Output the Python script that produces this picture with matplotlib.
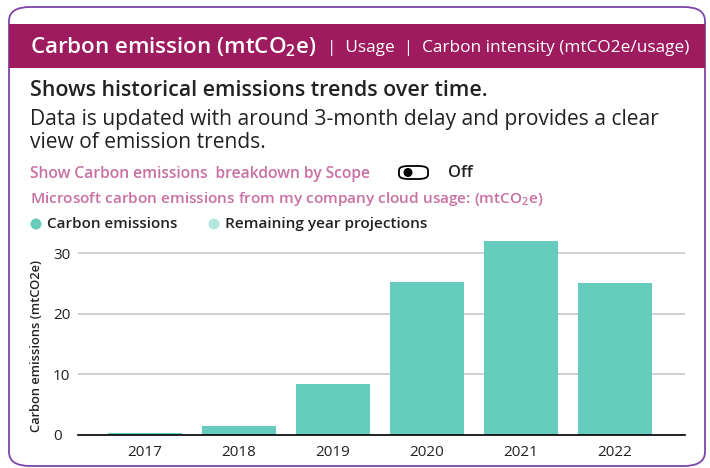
import matplotlib
matplotlib.use("Agg")
import matplotlib.pyplot as plt
from matplotlib.patches import FancyBboxPatch, Rectangle, Ellipse

plt.rcParams['font.family'] = ['Open Sans', 'DejaVu Sans']
plt.rcParams['mathtext.fontset'] = 'custom'
plt.rcParams['mathtext.rm'] = 'Open Sans:semibold'
plt.rcParams['mathtext.bf'] = 'Open Sans:semibold'

years = ['2017', '2018', '2019', '2020', '2021', '2022']
emissions = [0.33, 1.5, 8.4, 25.2, 32.0, 25.1]
yticks = [0, 10, 20, 30]

W, H = 710, 468
fig = plt.figure(figsize=(7.1, 4.68), dpi=100)
renderer = fig.canvas.get_renderer()

def fx(x): return x / W
def fy(y): return 1 - y / H

HEADER = '#9E1B5F'
PINK = '#C96FA2'
TEAL = '#66CCBD'
LTEAL = '#B2E6DE'
PURPLE = '#7E45A8'
DARK = '#222222'
BOLD = 'semibold'

def fit_text(x0, x1, yc, s, size, **kw):
    t = fig.text(fx(x0), fy(yc), s, fontsize=size, va='center', ha='left', **kw)
    w = t.get_window_extent(renderer).width
    t.set_fontsize(size * (x1 - x0) / w)
    return t

# card border
card = FancyBboxPatch((fx(9), fy(466)), fx(705) - fx(9), fy(7) - fy(466),
                      boxstyle="round,pad=0,rounding_size=0.03",
                      transform=fig.transFigure, facecolor='white',
                      edgecolor=PURPLE, linewidth=1.3, zorder=-10)
fig.patches.append(card)
band = Rectangle((fx(9), fy(68)), fx(705) - fx(9), fy(24) - fy(68),
                 transform=fig.transFigure, facecolor=HEADER, edgecolor='none', zorder=-5)
fig.patches.append(band)

fit_text(30, 318, 47, r'Carbon emission (mtCO$_2$e)', 14, color='white', fontweight=BOLD)
fit_text(327, 690, 48, '|  Usage  |  Carbon intensity (mtCO2e/usage)', 11, color='white')

fit_text(30, 486, 91, 'Shows historical emissions trends over time.', 13, color=DARK,
         fontweight=BOLD)
body = fit_text(30, 663, 120, 'Data is updated with around 3-month delay and provides a clear',
                14, color=DARK)
fig.text(fx(30), fy(143), 'view of emission trends.', fontsize=body.get_fontsize(),
         color=DARK, va='center', ha='left')

fit_text(30, 374, 174, 'Show Carbon emissions  breakdown by Scope', 10.5, color=PINK,
         fontweight=BOLD)
tog = FancyBboxPatch((fx(399), fy(179)), fx(428) - fx(399), fy(166) - fy(179),
                     boxstyle="round,pad=0,rounding_size=0.0135",
                     transform=fig.transFigure, facecolor='white', edgecolor='black',
                     linewidth=1.3, mutation_aspect=H / W)
fig.patches.append(tog)
fig.patches.append(Ellipse((fx(408), fy(172.5)), fx(9), 9 / H, transform=fig.transFigure,
                           facecolor='black', edgecolor='none'))
fit_text(448, 473, 173, 'Off', 10.5, color=DARK, fontweight=BOLD)

fit_text(30, 547, 199, r'Microsoft carbon emissions from my company cloud usage: (mtCO$_2$e)',
         10.5, color=PINK, fontweight=BOLD)

fig.patches.append(Ellipse((fx(36), fy(224)), fx(11), 11 / H, transform=fig.transFigure,
                           facecolor=TEAL, edgecolor='none'))
fit_text(47, 178, 224, 'Carbon emissions', 10.5, color=DARK, fontweight=BOLD)
fig.patches.append(Ellipse((fx(214), fy(224)), fx(11), 11 / H, transform=fig.transFigure,
                           facecolor=LTEAL, edgecolor='none'))
fit_text(225, 430, 224, 'Remaining year projections', 10.5, color=DARK, fontweight=BOLD)

# chart
ymax = 32.5
px_per_unit = (435 - 253.3) / 30
top_px = 435 - ymax * px_per_unit
ax = fig.add_axes([fx(78), fy(435), fx(685) - fx(78), (435 - top_px) / H])
x = list(range(len(years)))
ax.bar(x, emissions, width=0.79, color=TEAL, zorder=3)
ax.set_xlim(-0.71, len(years) - 1 + 0.745)
ax.set_ylim(0, ymax)
ax.set_yticks(yticks)
ax.set_xticks(x)
ax.set_xticklabels(years)
ax.grid(axis='y', color='#C8C8C8', linewidth=1.2, zorder=0)
for s in ['top', 'right', 'left']:
    ax.spines[s].set_visible(False)
ax.spines['bottom'].set_color('black')
ax.spines['bottom'].set_linewidth(1.2)
ax.spines['bottom'].set_zorder(4)
ax.tick_params(axis='both', length=0, labelsize=11, colors='#222222')
ax.tick_params(axis='y', pad=18)
ax.tick_params(axis='x', pad=7)
for lab in ax.get_yticklabels():
    lab.set_horizontalalignment('left')
ax.set_ylabel('Carbon emissions (mtCO2e)', fontsize=9.3, fontweight=BOLD, color=DARK)
ax.yaxis.set_label_coords(-0.058, 0.452)
ax.set_facecolor('none')

fig.savefig('out.png', dpi=100)
